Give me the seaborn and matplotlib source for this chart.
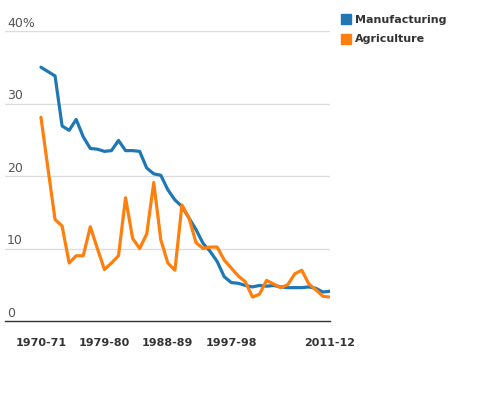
import matplotlib
matplotlib.use("Agg")
import matplotlib.pyplot as plt
import matplotlib.transforms as mtransforms
from matplotlib.lines import Line2D
import seaborn as sns
import pandas as pd
import numpy as np

years = [f"{y}-{str(y + 1)[-2:]}" for y in range(1970, 2012)]
manufacturing = [35.0, 34.4, 33.8, 26.9, 26.3, 27.8, 25.4, 23.8, 23.7, 23.4,
                 23.5, 24.9, 23.5, 23.5, 23.4, 21.1, 20.3, 20.1, 18.1, 16.7,
                 15.8, 14.2, 12.6, 10.7, 9.6, 8.2, 6.1, 5.3, 5.2, 4.9,
                 4.7, 4.9, 4.8, 4.9, 4.7, 4.6, 4.6, 4.6, 4.7, 4.5,
                 4.0, 4.1]
agriculture = [28.1, 21.0, 14.0, 13.1, 8.0, 9.0, 9.0, 13.0, 10.0, 7.1,
               8.0, 9.0, 17.0, 11.4, 10.0, 12.0, 19.1, 11.2, 8.0, 7.0,
               16.0, 14.2, 10.8, 10.0, 10.2, 10.2, 8.4, 7.3, 6.2, 5.4,
               3.3, 3.7, 5.6, 5.1, 4.6, 5.0, 6.5, 7.0, 5.1, 4.3,
               3.4, 3.3]
series_names = ["Manufacturing", "Agriculture"]
tick_years = ["1970-71", "1979-80", "1988-89", "1997-98", "2011-12"]
y_ticks = [0, 10, 20, 30, 40]
y_labels = ["0", "10", "20", "30", "40%"]

colors = {"Manufacturing": "#1f77b4", "Agriculture": "#ff7f0e"}

df = pd.DataFrame({
    "idx": list(range(len(years))) * 2,
    "year": years * 2,
    "value": manufacturing + agriculture,
    "series": ["Manufacturing"] * len(years) + ["Agriculture"] * len(years),
})

sns.set_style("white")
plt.rcParams["font.family"] = ["DejaVu Sans"]

fig = plt.figure(figsize=(4.8, 4.0), dpi=100)
ax = fig.add_axes([5 / 480, 1 - 321 / 400, 325 / 480, 290 / 400])

sns.lineplot(data=df, x="idx", y="value", hue="series", hue_order=series_names,
             palette=colors, linewidth=2.3, ax=ax, legend=False, zorder=3)

ax.set_xlim(-5.1, len(years) - 1)
ax.set_ylim(0, 40)
ax.set_xlabel("")
ax.set_ylabel("")

for s in ["top", "right", "left"]:
    ax.spines[s].set_visible(False)
ax.spines["bottom"].set_color("#333333")
ax.spines["bottom"].set_linewidth(1.0)

ax.set_yticks(y_ticks)
ax.set_yticklabels([])
ax.tick_params(axis="y", length=0)
for t in y_ticks[1:]:
    ax.axhline(t, color="#dddddd", linewidth=1.0, zorder=1)

trans = mtransforms.blended_transform_factory(ax.transAxes, ax.transData)
for t, lab in zip(y_ticks, y_labels):
    ax.text(2 / 325, t + 0.2, lab, transform=trans, ha="left", va="bottom",
            fontsize=9, color="#555555")

tick_pos = [years.index(y) for y in tick_years]
ax.set_xticks(tick_pos)
ax.set_xticklabels(tick_years, fontsize=8, fontweight="bold", color="#333333")
ax.tick_params(axis="x", length=0, pad=12)

handles = [Line2D([0], [0], marker="s", linestyle="", markersize=7,
                  markerfacecolor=colors[n], markeredgecolor=colors[n])
           for n in series_names]
leg = fig.legend(handles, series_names, loc="upper left",
                 bbox_to_anchor=(330 / 480, 1 - 5 / 400), frameon=False,
                 handletextpad=0.35, labelspacing=0.85, handlelength=1.0,
                 prop={"size": 8, "weight": "bold"})
for txt in leg.get_texts():
    txt.set_color("#333333")

fig.savefig("out.png", dpi=100)
